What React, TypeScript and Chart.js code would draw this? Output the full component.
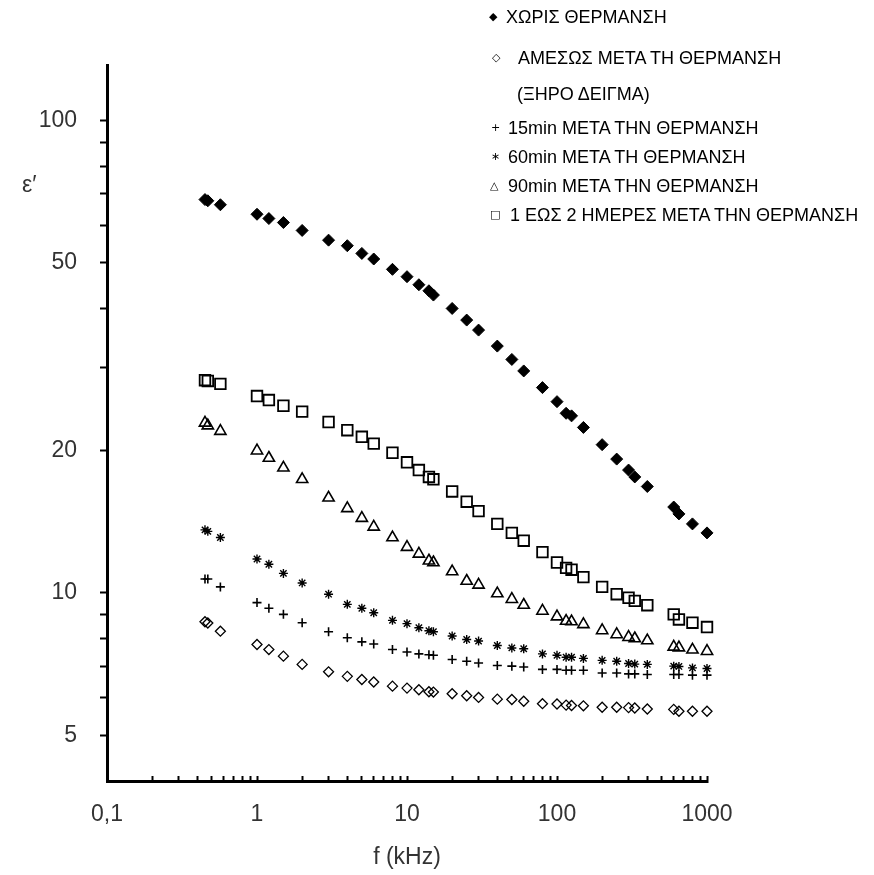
import { useEffect, useRef } from 'react';
import { Chart, registerables } from 'chart.js';

Chart.register(...registerables);

// Frequencies (kHz)
const FREQ_KHZ = [0.45, 0.47, 0.57, 1, 1.2, 1.5, 2, 3, 4, 5, 6, 8, 10, 12, 14, 15, 20, 25, 30, 40, 50, 60, 80, 100, 115, 125, 150, 200, 250, 300, 330, 400, 600, 650, 800, 1000];

// ε' series
const EPS_UNHEATED = [68.0, 67.6, 66.3, 63.3, 62.0, 60.8, 58.5, 55.8, 54.3, 52.3, 50.9, 48.4, 46.7, 44.9, 43.6, 42.7, 40.0, 37.8, 36.0, 33.3, 31.2, 29.5, 27.2, 25.4, 24.0, 23.7, 22.4, 20.6, 19.2, 18.2, 17.6, 16.8, 15.2, 14.7, 14.0, 13.4];
const EPS_DRY = [8.69, 8.64, 8.30, 7.78, 7.59, 7.35, 7.06, 6.81, 6.66, 6.56, 6.48, 6.35, 6.29, 6.24, 6.18, 6.17, 6.12, 6.06, 6.01, 5.96, 5.95, 5.90, 5.83, 5.82, 5.79, 5.78, 5.77, 5.73, 5.73, 5.72, 5.71, 5.68, 5.67, 5.62, 5.62, 5.62];
const EPS_15MIN = [10.7, 10.7, 10.3, 9.54, 9.28, 9.01, 8.65, 8.28, 8.04, 7.88, 7.80, 7.59, 7.50, 7.43, 7.40, 7.38, 7.23, 7.17, 7.11, 7.02, 7.00, 6.97, 6.89, 6.89, 6.86, 6.86, 6.86, 6.77, 6.77, 6.74, 6.74, 6.72, 6.72, 6.72, 6.70, 6.70];
const EPS_60MIN = [13.6, 13.5, 13.1, 11.8, 11.5, 11.0, 10.5, 9.94, 9.46, 9.28, 9.08, 8.75, 8.61, 8.44, 8.32, 8.28, 8.11, 7.97, 7.91, 7.74, 7.65, 7.62, 7.43, 7.38, 7.31, 7.31, 7.27, 7.20, 7.17, 7.09, 7.07, 7.06, 7.00, 6.99, 6.94, 6.92];
const EPS_90MIN = [22.9, 22.6, 22.0, 20.0, 19.3, 18.4, 17.4, 15.9, 15.1, 14.4, 13.8, 13.1, 12.5, 12.1, 11.7, 11.6, 11.1, 10.6, 10.4, 9.97, 9.70, 9.43, 9.16, 8.91, 8.72, 8.70, 8.58, 8.33, 8.17, 8.06, 8.01, 7.93, 7.69, 7.66, 7.58, 7.53];
const EPS_1TO2DAYS = [28.2, 28.1, 27.7, 26.1, 25.6, 24.9, 24.2, 23.0, 22.1, 21.4, 20.7, 19.8, 18.9, 18.2, 17.6, 17.4, 16.4, 15.6, 14.9, 14.0, 13.4, 12.9, 12.2, 11.6, 11.3, 11.2, 10.8, 10.3, 9.94, 9.77, 9.62, 9.42, 9.01, 8.79, 8.65, 8.47];

// Legend texts
const LEGEND_TEXTS = [
  'ΧΩΡΙΣ ΘΕΡΜΑΝΣΗ',
  'ΑΜΕΣΩΣ ΜΕΤΑ ΤΗ ΘΕΡΜΑΝΣΗ',
  '(ΞΗΡΟ ΔΕΙΓΜΑ)',
  '15min ΜΕΤΑ ΤΗΝ ΘΕΡΜΑΝΣΗ',
  '60min ΜΕΤΑ ΤΗ ΘΕΡΜΑΝΣΗ',
  '90min ΜΕΤΑ ΤΗΝ ΘΕΡΜΑΝΣΗ',
  '1 ΕΩΣ 2 ΗΜΕΡΕΣ ΜΕΤΑ ΤΗΝ ΘΕΡΜΑΝΣΗ',
];

// Axis ticks
const X_TICK_VALUES = [0.1, 0.2, 0.3, 0.4, 0.5, 0.6, 0.7, 0.8, 0.9, 1, 2, 3, 4, 5, 6, 7, 8, 9, 10, 20, 30, 40, 50, 60, 70, 80, 90, 100, 200, 300, 400, 500, 600, 700, 800, 900, 1000];
const X_LABEL_VALUES = [0.1, 1, 10, 100, 1000];
const X_LABELS = ['0,1', '1', '10', '100', '1000'];
const Y_TICK_VALUES = [5, 6, 7, 8, 9, 10, 20, 30, 40, 50, 60, 70, 80, 90, 100];
const Y_LABEL_VALUES = [5, 10, 20, 50, 100];
const Y_LABELS = ['5', '10', '20', '50', '100'];

const FONT = 'Arial, "Liberation Sans", sans-serif';

function labelFor(v: number, values: number[], labels: string[]) {
  const i = values.findIndex((t) => Math.abs(t - v) / t < 1e-6);
  return i >= 0 ? labels[i] : '';
}

function toPoints(vals: number[]) {
  return FREQ_KHZ.map((f, i) => ({ x: f, y: vals[i] }));
}

export default function App() {
  const ref = useRef<HTMLCanvasElement | null>(null);

  useEffect(() => {
    if (!ref.current) return;
    const common = { showLine: false, clip: false as any, borderColor: '#000' };
    const chart = new Chart(ref.current, {
      type: 'scatter',
      data: {
        datasets: [
          { ...common, label: LEGEND_TEXTS[0], data: toPoints(EPS_UNHEATED), pointStyle: 'rectRot', pointRadius: 6, backgroundColor: '#000', borderWidth: 1 },
          { ...common, label: LEGEND_TEXTS[1], data: toPoints(EPS_DRY), pointStyle: 'rectRot', pointRadius: 5, backgroundColor: 'rgba(0,0,0,0)', borderWidth: 1.3 },
          { ...common, label: LEGEND_TEXTS[3], data: toPoints(EPS_15MIN), pointStyle: 'cross', pointRadius: 4.5, backgroundColor: 'rgba(0,0,0,0)', borderWidth: 1.6 },
          { ...common, label: LEGEND_TEXTS[4], data: toPoints(EPS_60MIN), pointStyle: 'star', pointRadius: 4.5, backgroundColor: 'rgba(0,0,0,0)', borderWidth: 1.4 },
          { ...common, label: LEGEND_TEXTS[5], data: toPoints(EPS_90MIN), pointStyle: 'triangle', pointRadius: 6.5, backgroundColor: 'rgba(0,0,0,0)', borderWidth: 1.6 },
          { ...common, label: LEGEND_TEXTS[6], data: toPoints(EPS_1TO2DAYS), pointStyle: 'rect', pointRadius: 7.5, backgroundColor: 'rgba(0,0,0,0)', borderWidth: 1.8 },
        ],
      },
      options: {
        animation: false,
        responsive: false,
        maintainAspectRatio: false,
        layout: { padding: { top: 65, right: 167, left: 0, bottom: 0 } },
        plugins: { legend: { display: false }, tooltip: { enabled: false } },
        scales: {
          x: {
            type: 'logarithmic',
            position: 'bottom',
            min: 0.1,
            max: 1000,
            border: { display: true, color: '#000', width: 3 },
            grid: { display: true, drawOnChartArea: false, drawTicks: true, tickLength: -5, color: '#000', tickColor: '#000', tickWidth: 2 },
            ticks: {
              autoSkip: false,
              maxRotation: 0,
              minRotation: 0,
              padding: 25,
              color: '#333',
              font: { family: FONT, size: 23 },
              callback: (v: any) => labelFor(Number(v), X_LABEL_VALUES, X_LABELS),
            },
            title: { display: true, text: 'f (kHz)', color: '#333', font: { family: FONT, size: 23 }, padding: { top: 0, bottom: 4 } },
            afterBuildTicks: (s: any) => { s.ticks = X_TICK_VALUES.map((v) => ({ value: v })); },
            afterFit: (s: any) => { s.height = 94; },
          },
          y: {
            type: 'logarithmic',
            position: 'left',
            min: 4,
            max: 131,
            border: { display: true, color: '#000', width: 3 },
            grid: { display: true, drawOnChartArea: false, drawTicks: true, tickLength: 7, color: '#000', tickColor: '#000', tickWidth: 2 },
            ticks: {
              autoSkip: false,
              padding: 23,
              color: '#333',
              font: { family: FONT, size: 23 },
              callback: (v: any) => labelFor(Number(v), Y_LABEL_VALUES, Y_LABELS),
            },
            afterBuildTicks: (s: any) => { s.ticks = Y_TICK_VALUES.map((v) => ({ value: v })); },
            afterFit: (s: any) => { s.width = 107; },
          },
        },
      },
    });
    return () => chart.destroy();
  }, []);

  const lg = { position: 'absolute' as const, fontFamily: FONT, fontSize: 18, lineHeight: '20px', color: '#000', whiteSpace: 'nowrap' as const };
  const mk = { position: 'absolute' as const, fontFamily: '"DejaVu Sans", sans-serif', fontSize: 11, lineHeight: '20px', color: '#000' };

  const rows = [
    { m: '◆', mx: 489, tx: 506, y: 7, t: LEGEND_TEXTS[0] },
    { m: '◇', mx: 492, tx: 518, y: 48, t: LEGEND_TEXTS[1] },
    { m: '', mx: 0, tx: 517, y: 84, t: LEGEND_TEXTS[2] },
    { m: '+', mx: 491, tx: 508, y: 118, t: LEGEND_TEXTS[3] },
    { m: '∗', mx: 491, tx: 508, y: 147, t: LEGEND_TEXTS[4] },
    { m: '△', mx: 490, tx: 508, y: 176, t: LEGEND_TEXTS[5] },
    { m: '□', mx: 490, tx: 510, y: 205, t: LEGEND_TEXTS[6] },
  ];

  return (
    <div style={{ position: 'absolute', left: 0, top: 0, width: 874, height: 875, background: '#fff', overflow: 'hidden' }}>
      <canvas ref={ref} width={874} height={875} style={{ display: 'block', width: 874, height: 875 }} />
      <div style={{ position: 'absolute', left: 22, top: 170, fontFamily: FONT, fontSize: 23, color: '#333', lineHeight: '28px' }}>ε′</div>
      {rows.map((r, i) => (
        <div key={i}>
          {r.m ? <div style={{ ...mk, left: r.mx, top: r.y }}>{r.m}</div> : null}
          <div style={{ ...lg, left: r.tx, top: r.y }}>{r.t}</div>
        </div>
      ))}
    </div>
  );
}
